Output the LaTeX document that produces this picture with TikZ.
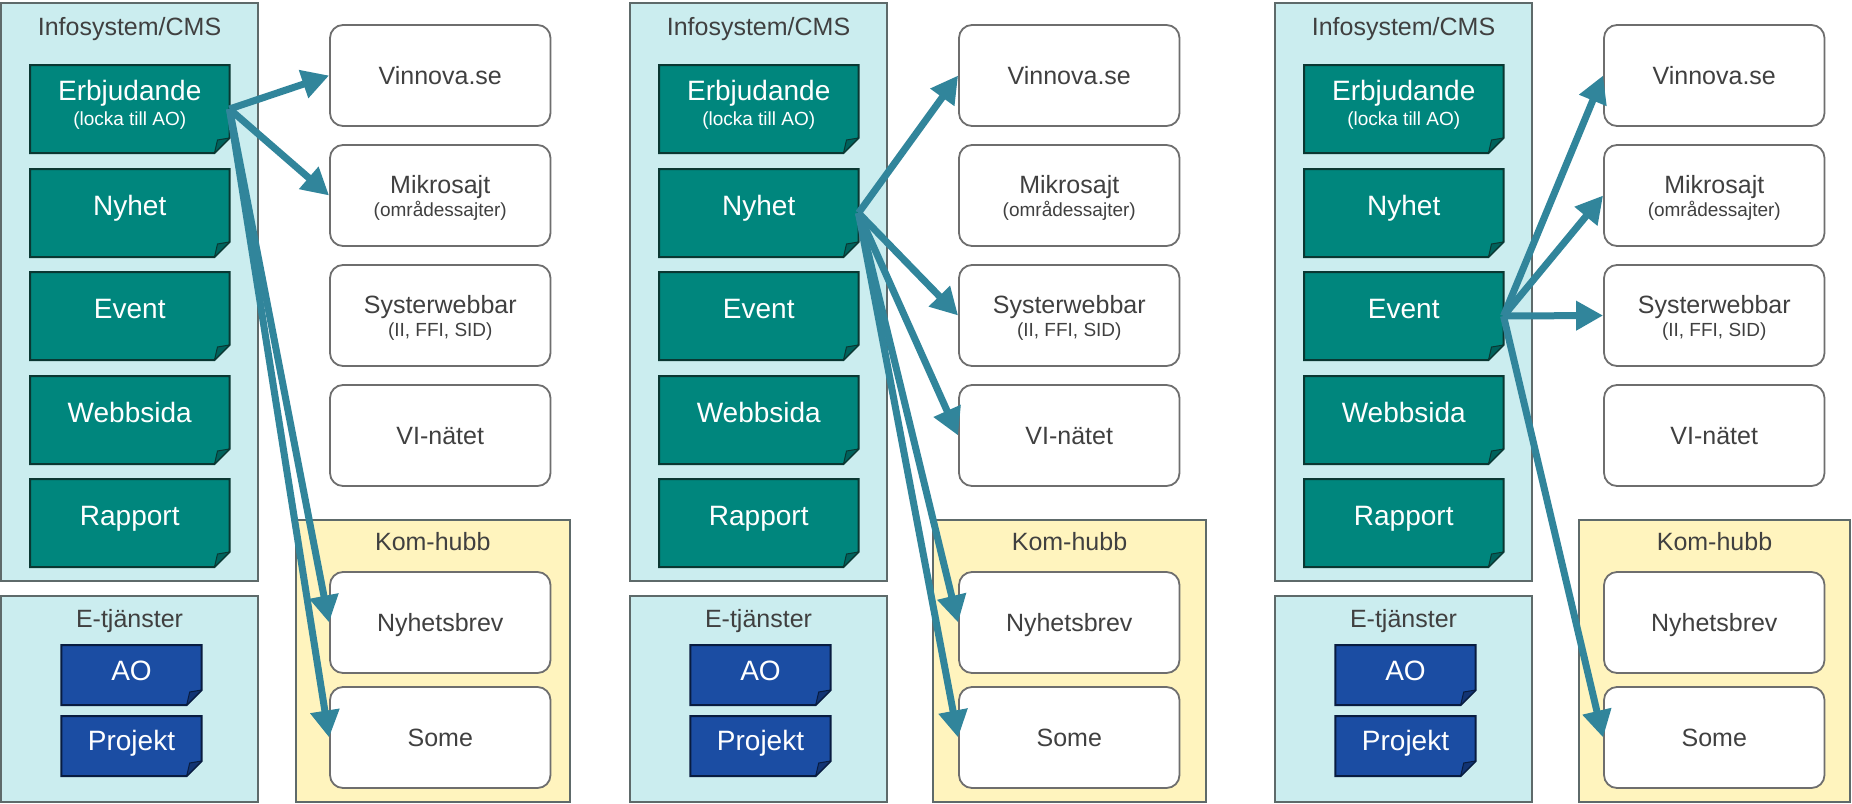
\documentclass[tikz,border=0pt]{standalone}
\usepackage{fontspec}
\setmainfont{Liberation Sans}
\usetikzlibrary{arrows.meta}
\definecolor{panelfill}{RGB}{203,237,239}
\definecolor{panelline}{RGB}{94,106,106}
\definecolor{tealfill}{RGB}{0,134,125}
\definecolor{tealfold}{RGB}{0,98,92}
\definecolor{tealline}{RGB}{10,55,50}
\definecolor{bluefill}{RGB}{27,77,163}
\definecolor{bluefold}{RGB}{18,52,115}
\definecolor{blueline}{RGB}{8,28,64}
\definecolor{hubfill}{RGB}{255,244,190}
\definecolor{boxline}{RGB}{110,110,110}
\definecolor{arrowcol}{RGB}{49,133,155}
\definecolor{txt}{RGB}{64,64,64}

\tikzset{
  panel/.style={draw=panelline, line width=2pt, fill=panelfill, inner sep=0pt},
  hub/.style={draw=panelline, line width=2pt, fill=hubfill, inner sep=0pt},
  webbox/.style={draw=boxline, line width=1.8pt, fill=white, rounded corners=13pt,
    minimum width=220.5pt, minimum height=101pt, inner sep=0pt},
  fnode/.style={inner sep=0pt, outer sep=0pt},
  bigw/.style={text=white, font=\fontsize{28}{30}\selectfont, inner sep=0pt, text height=20pt, text depth=0pt},
  smallw/.style={text=white, font=\fontsize{19}{21}\selectfont, inner sep=0pt, text height=13.6pt, text depth=0pt},
  midd/.style={text=txt, font=\fontsize{25}{27}\selectfont, inner sep=0pt, text height=17.9pt, text depth=0pt},
  smalld/.style={text=txt, font=\fontsize{19}{21}\selectfont, inner sep=0pt, text height=13.6pt, text depth=0pt},
  flow/.style={draw=arrowcol, line width=7pt, -{Triangle[length=27pt,width=28pt]}},
}

% folded-corner rectangle: xl, yt, xr, yb, fill, fold fill, line
\newcommand{\foldrect}[7]{%
  \filldraw[fill=#5, draw=#7, line width=2pt, line join=miter]
    (#1,#2) -- (#3,#2) -- (#3,#4-15) -- (#3-15,#4) -- (#1,#4) -- cycle;
  \filldraw[fill=#6, draw=#7, line width=1pt, line join=round]
    (#3-15,#4) -- (#3,#4-15) -- (#3-12,#4-13) -- cycle;
}

% one panel: dx, prefix, hub left (rel), hub right (rel)
\newcommand{\cmspanel}[4]{%
  \node[panel, minimum width=257pt, minimum height=578pt] (#2info) at (#1+129.5,292) {};
  \node[midd] (#2infot) at (#1+129.5,26.3) {Infosystem/CMS};
  \node[panel, minimum width=257pt, minimum height=206pt] (#2etj) at (#1+129.5,699) {};
  \node[midd] (#2etjt) at (#1+129.5,618.3) {E-tjänster};
  \node[hub, minimum width={(#4-#3)*1pt}, minimum height=282pt] (#2hub) at ({#1+(#3+#4)/2},661) {};
  \node[midd] (#2hubt) at ({#1+(#3+#4)/2},542) {Kom-hubb};
  % teal note boxes
  \foldrect{#1+30}{65}{#1+229.5}{153}{tealfill}{tealfold}{tealline}
  \node[fnode, minimum width=199.5pt, minimum height=88pt,
    label={[bigw,yshift=18.5pt]center:{Erbjudande}},
    label={[smallw,yshift=-9.6pt]center:{(locka till AO)}}] (#2erb) at (#1+129.75,109) {};
  \foldrect{#1+30}{169}{#1+229.5}{257}{tealfill}{tealfold}{tealline}
  \node[fnode, minimum width=199.5pt, minimum height=88pt,
    label={[bigw,yshift=7.5pt]center:{Nyhet}}] (#2nyh) at (#1+129.75,213) {};
  \foldrect{#1+30}{272}{#1+229.5}{360}{tealfill}{tealfold}{tealline}
  \node[fnode, minimum width=199.5pt, minimum height=88pt,
    label={[bigw,yshift=7.5pt]center:{Event}}] (#2evt) at (#1+129.75,316) {};
  \foldrect{#1+30}{376}{#1+229.5}{464}{tealfill}{tealfold}{tealline}
  \node[fnode, minimum width=199.5pt, minimum height=88pt,
    label={[bigw,yshift=7.5pt]center:{Webbsida}}] (#2web) at (#1+129.75,420) {};
  \foldrect{#1+30}{479}{#1+229.5}{567}{tealfill}{tealfold}{tealline}
  \node[fnode, minimum width=199.5pt, minimum height=88pt,
    label={[bigw,yshift=7.5pt]center:{Rapport}}] (#2rap) at (#1+129.75,523) {};
  % blue note boxes
  \foldrect{#1+61.3}{645}{#1+201.7}{705}{bluefill}{bluefold}{blueline}
  \node[fnode, minimum width=140.4pt, minimum height=60pt,
    label={[bigw,yshift=4.5pt]center:{AO}}] (#2ao) at (#1+131.5,675) {};
  \foldrect{#1+61.3}{716}{#1+201.7}{776}{bluefill}{bluefold}{blueline}
  \node[fnode, minimum width=140.4pt, minimum height=60pt,
    label={[bigw,yshift=5.5pt]center:{Projekt}}] (#2pro) at (#1+131.5,746) {};
  % channel boxes
  \node[webbox, label={[midd,yshift=0pt]center:{Vinnova.se}}] (#2vin) at (#1+440.25,75.5) {};
  \node[webbox, label={[midd,yshift=11pt]center:{Mikrosajt}},
    label={[smalld,yshift=-14pt]center:{(områdessajter)}}] (#2mik) at (#1+440.25,195.5) {};
  \node[webbox, label={[midd,yshift=10.5pt]center:{Systerwebbar}},
    label={[smalld,yshift=-14pt]center:{(II, FFI, SID)}}] (#2sys) at (#1+440.25,315.5) {};
  \node[webbox, label={[midd,yshift=0pt]center:{VI-nätet}}] (#2vi) at (#1+440.25,435.5) {};
  \node[webbox, label={[midd,yshift=0pt]center:{Nyhetsbrev}}] (#2nyb) at (#1+440.25,622.5) {};
  \node[webbox, label={[midd,yshift=0pt]center:{Some}}] (#2some) at (#1+440.25,737.5) {};
}

\begin{document}
\begin{tikzpicture}[x=1pt,y=-1pt]
\useasboundingbox (0,0) rectangle (1852,803);
\fill[white] (0,0) rectangle (1852,803);

\cmspanel{0}{p1}{296}{569.5}
\cmspanel{629}{p2}{304}{577}
\cmspanel{1274}{p3}{305}{576}

% panel 1: Erbjudande
\draw[flow] (p1erb.east) -- (p1vin.west);
\draw[flow] (p1erb.east) -- (p1mik.west);
\draw[flow] (p1erb.east) -- (p1nyb.west);
\draw[flow] (p1erb.east) -- (p1some.west);
% panel 2: Nyhet
\draw[flow] (p2nyh.east) -- (p2vin.west);
\draw[flow] (p2nyh.east) -- (p2sys.west);
\draw[flow] (p2nyh.east) -- (p2vi.west);
\draw[flow] (p2nyh.east) -- (p2nyb.west);
\draw[flow] (p2nyh.east) -- (p2some.west);
% panel 3: Event
\draw[flow] (p3evt.east) -- (p3vin.west);
\draw[flow] (p3evt.east) -- (p3mik.west);
\draw[flow] (p3evt.east) -- (p3sys.west);
\draw[flow] (p3evt.east) -- (p3some.west);
\end{tikzpicture}
\end{document}
